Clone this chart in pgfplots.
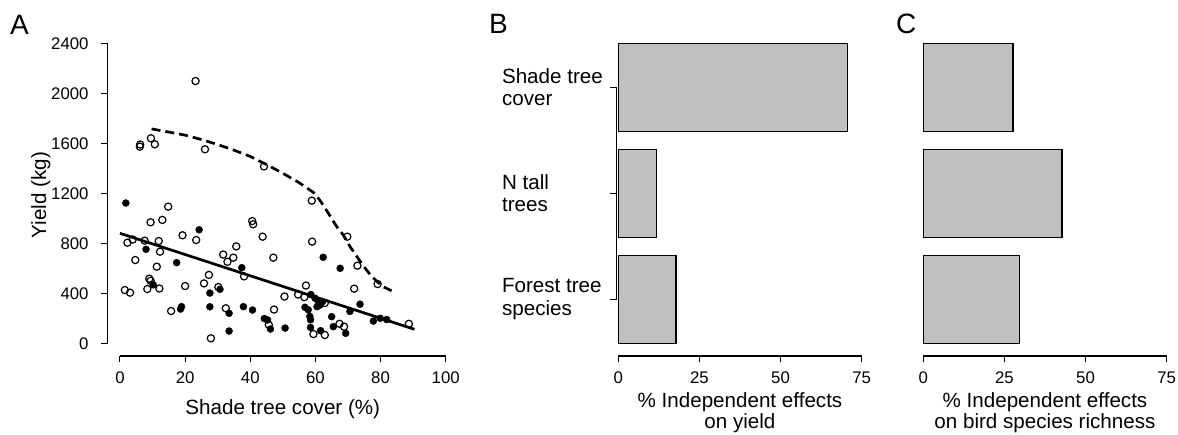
\documentclass[border=0pt]{standalone}
\usepackage{fontspec}
\setmainfont{Liberation Sans}
\usepackage{pgfplots}
\pgfplotsset{compat=1.18}
\definecolor{barfill}{RGB}{192,192,192}

% R-like axes: detached lines, outward ticks
\pgfplotsset{
  rstyle/.style={
    scale only axis, clip=false,
    tick align=outside, major tick length=6.5pt,
    tick style={black, line width=1pt},
    axis line style={draw=none},
    ticklabel style={font=\fontsize{16.8}{18}\selectfont},
    xticklabel style={yshift=-6pt},
    yticklabel style={xshift=-9pt},
    /pgf/number format/assume math mode=true,
    /pgf/number format/1000 sep={},
    every axis label/.append style={font=\fontsize{20.6}{21}\selectfont},
  },
}
\tikzset{
  lbl/.style={font=\fontsize{20.6}{22.5}\selectfont, anchor=west, align=left, inner sep=0pt},
  barstyle/.style={fill=barfill, draw=black, line width=1.5pt, mark=none},
}

\begin{document}
\begin{tikzpicture}
\useasboundingbox (0pt,0pt) rectangle (1178pt,435pt);

% ---------- A ----------
\begin{axis}[rstyle,
  width=351.1pt, height=324.7pt,
  at={(107.6pt,79pt)}, anchor=south west,
  xmin=-3.8, xmax=104, ymin=-101.6, ymax=2496,
  axis x line*=bottom, axis y line*=left,
  xtick={0,20,...,100}, ytick={0,400,...,2400},
  xlabel={Shade tree cover (\%)},
  ylabel={Yield (kg)},
  xlabel style={at={(axis description cs:0.499,0)}, anchor=base, yshift=-58.3pt},
  ylabel style={at={(axis description cs:-0.1754,0.496)}, anchor=base},
]
\addplot[only marks, mark=o, mark size=3.6pt, mark options={line width=1.2pt, black}] coordinates {
(23.2,2098) (6.1,1573) (6.2,1590) (9.5,1640) (10.7,1592) (26.1,1552) (44.2,1415)
(58.9,1141) (14.8,1093) (13.0,987) (9.4,968) (40.6,978) (40.9,952) (19.2,864)
(23.4,826) (43.8,853) (59.0,813) (69.8,853) (2.3,805) (3.9,830) (7.6,821)
(11.9,818) (12.3,733) (4.7,666) (11.3,613) (35.7,775) (31.7,710) (34.8,685)
(33.0,652) (47.1,685) (72.9,621) (38.1,535) (27.3,547) (25.8,479) (20.0,458)
(57.1,462) (9.0,517) (9.4,500) (8.4,434) (12.1,438) (1.5,426) (3.1,405)
(71.9,437) (79.1,474) (50.5,374) (54.7,390) (56.6,369) (62.9,322) (32.5,280)
(15.7,258) (47.3,270) (45.7,148) (27.9,40) (59.4,74) (62.9,66) (67.4,156)
(68.8,133) (88.7,156) (30.2,450)
};
\addplot[only marks, mark=*, mark size=3.5pt, mark options={black, fill=black}] coordinates {
(1.8,1122) (24.3,908) (8.0,752) (17.4,645) (37.4,605) (62.4,688) (67.6,600)
(10.2,468) (30.7,432) (27.6,402) (18.9,293) (18.6,274) (27.6,292) (37.9,293)
(40.7,266) (33.5,240) (33.5,98) (44.3,198) (45.3,187) (46.2,114) (50.7,122)
(58.6,390) (59.9,360) (60.9,333) (61.4,306) (60.5,293) (62.2,333) (56.8,288)
(57.8,268) (58.3,215) (58.5,188) (58.5,127) (61.6,101) (65.0,213) (65.5,133)
(69.3,80) (70.6,255) (73.7,313) (77.8,178) (79.9,200) (81.9,190)
};
\addplot[black, line width=2.7pt] coordinates {(0,880) (90.4,112)};
\addplot[black, line width=2.7pt, dash pattern=on 9pt off 5pt] coordinates {
(9.7,1715) (15,1690) (20,1665) (25,1630) (30,1590) (35,1545) (40,1495)
(45,1430) (50,1360) (55,1285) (59.5,1205) (61.5,1140) (64,1040) (66.5,935)
(68.6,865) (70.6,775) (72.7,695) (74.7,620) (76.8,550) (79.3,485) (81,450)
(83.4,420)
};
\draw[line width=1.1pt] (axis cs:0,-101.6) -- (axis cs:100,-101.6);
\draw[line width=1.1pt] (axis cs:-3.8,0) -- (axis cs:-3.8,2400);
\end{axis}

% ---------- B ----------
\begin{axis}[rstyle,
  width=254.7pt, height=321.7pt,
  at={(616.7pt,79pt)}, anchor=south west,
  xmin=-0.5, xmax=78, ymin=0.465, ymax=3.5,
  axis x line*=bottom, axis y line*=left,
  xtick={0,25,50,75}, ytick={1,2,3}, yticklabels={},
  xbar, bar width=88pt,
  xlabel={\% Independent effects\\on yield},
  xlabel style={align=center, at={(axis description cs:0.484,0)}, anchor=north, yshift=-33.5pt},
]
\addplot[barstyle] coordinates {(70.7,3) (11.8,2) (17.8,1)};
\draw[line width=1.1pt] (axis cs:-0.5,1) -- (axis cs:-0.5,3);
\draw[line width=1.1pt] (axis cs:0,0.465) -- (axis cs:75,0.465);
\node[lbl] at (axis cs:-35.9,3) {Shade tree\\cover};
\node[lbl] at (axis cs:-35.9,2) {N tall\\trees};
\node[lbl] at (axis cs:-35.9,1) {Forest tree\\species};
\end{axis}

% ---------- C ----------
\begin{axis}[rstyle,
  width=254.7pt, height=321.7pt,
  at={(921.7pt,79pt)}, anchor=south west,
  xmin=-0.5, xmax=78, ymin=0.465, ymax=3.5,
  axis x line*=bottom, axis y line=none,
  xtick={0,25,50,75},
  xbar, bar width=88pt,
  xlabel={\% Independent effects\\on bird species richness},
  xlabel style={align=center, at={(axis description cs:0.484,0)}, anchor=north, yshift=-33.5pt},
]
\addplot[barstyle] coordinates {(27.7,3) (42.7,2) (29.6,1)};
\draw[line width=1.1pt] (axis cs:0,0.465) -- (axis cs:75,0.465);
\end{axis}

\node[font=\fontsize{28}{28}\selectfont, anchor=base west, inner sep=0pt] at (10pt,400pt) {A};
\node[font=\fontsize{28}{28}\selectfont, anchor=base west, inner sep=0pt] at (489pt,401.5pt) {B};
\node[font=\fontsize{28}{28}\selectfont, anchor=base west, inner sep=0pt] at (896pt,401.5pt) {C};
\end{tikzpicture}
\end{document}
